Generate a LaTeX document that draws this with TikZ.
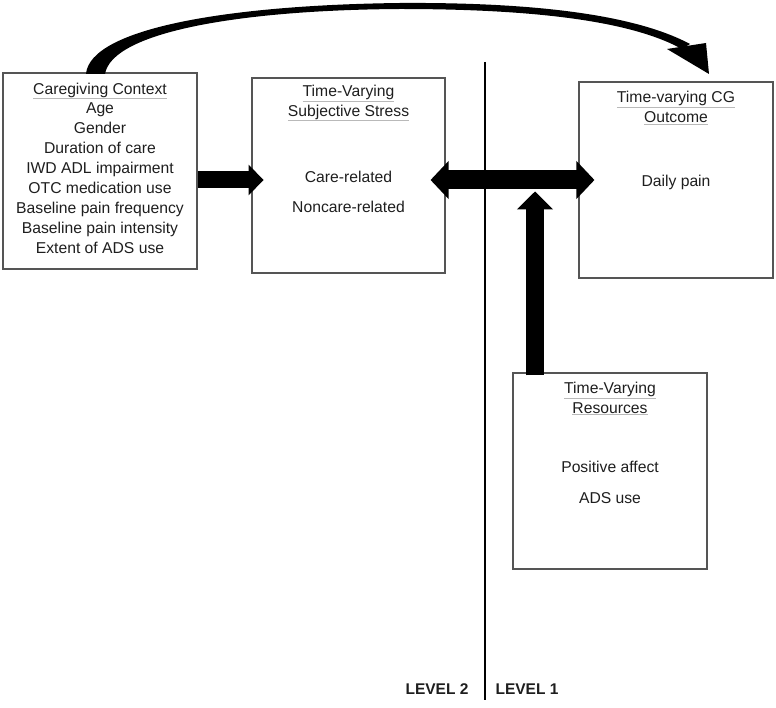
\documentclass[tikz,border=0pt]{standalone}
\usepackage{fontspec}
\setmainfont{Liberation Sans}
\usetikzlibrary{arrows.meta}
\definecolor{ink}{HTML}{1E1E1E}
\definecolor{frame}{HTML}{555555}
\newcommand{\heading}[1]{{\color{gray!55}\underline{\textcolor{ink}{#1}}}}
\begin{document}
\begin{tikzpicture}[x=1pt,y=-1pt,
  box/.style={draw=frame,line width=1.1pt,minimum width=194pt,minimum height=196pt,inner sep=0pt},
  txt/.style={text=ink,font=\fontsize{15.7}{19.9}\selectfont,align=center,inner sep=0pt},
  lvl/.style={text=ink,font=\fontsize{15.5}{18}\selectfont\bfseries,inner sep=0pt},
  fat/.style={line width=#1pt,draw=black}]
  \useasboundingbox (0,0) rectangle (776,708);
  \node[box] (ctx) at (100,171) {};
  \node[box,minimum width=193pt,minimum height=195pt] (stress) at (348.5,175.5) {};
  \node[box] (out) at (676,180) {};
  \node[box] (res) at (610,471) {};
  \node[txt] (ctxtext) at (100,168) {\heading{Caregiving Context}\\Age\\Gender\\Duration of care\\IWD ADL impairment\\OTC medication use\\Baseline pain frequency\\Baseline pain intensity\\Extent of ADS use};
  \node[txt] (stresshead) at (348.5,103) {\heading{Time-Varying}\\\heading{Subjective Stress}};
  \node[txt] (care) at (348.5,177) {Care-related};
  \node[txt] (noncare) at (348.5,207) {Noncare-related};
  \node[txt] (outhead) at (676,108) {\heading{Time-varying CG}\\\heading{Outcome}};
  \node[txt] (pain) at (676,182) {Daily pain};
  \node[txt] (reshead) at (610,398.5) {\heading{Time-Varying}\\\heading{Resources}};
  \node[txt] (affect) at (610,467) {Positive affect};
  \node[txt] (adsuse) at (610,498) {ADS use};
  \draw[line width=2.4pt] (485,62) -- (485,700);
  \node[lvl] (lv2) at (437,689) {LEVEL 2};
  \node[lvl] (lv1) at (527,689) {LEVEL 1};
  \fill (86,74) .. controls (90,28) and (230,5) .. (400,3) .. controls (560,2) and (645,20) .. (690,44)
    -- (682,49) .. controls (640,26) and (560,9) .. (400,9) .. controls (240,10) and (112,32) .. (105,74) -- cycle;
  \fill (667,49) -- (706,43) -- (709,74) -- cycle;
  \draw[fat=17,-{Triangle[length=15pt,width=30pt]}] ([yshift=-9pt]ctx.east) -- ++(66,0);
  \draw[fat=19,{Triangle[length=18pt,width=37pt]}-{Triangle[length=18pt,width=37pt]}] ([xshift=-15pt]stress.east |- out.west) -- ([xshift=16pt]out.west);
  \draw[fat=18,-{Triangle[length=18pt,width=35pt]}] ([xshift=-75pt,yshift=-3pt]res.north) -- ++(0,-184);
\end{tikzpicture}
\end{document}
